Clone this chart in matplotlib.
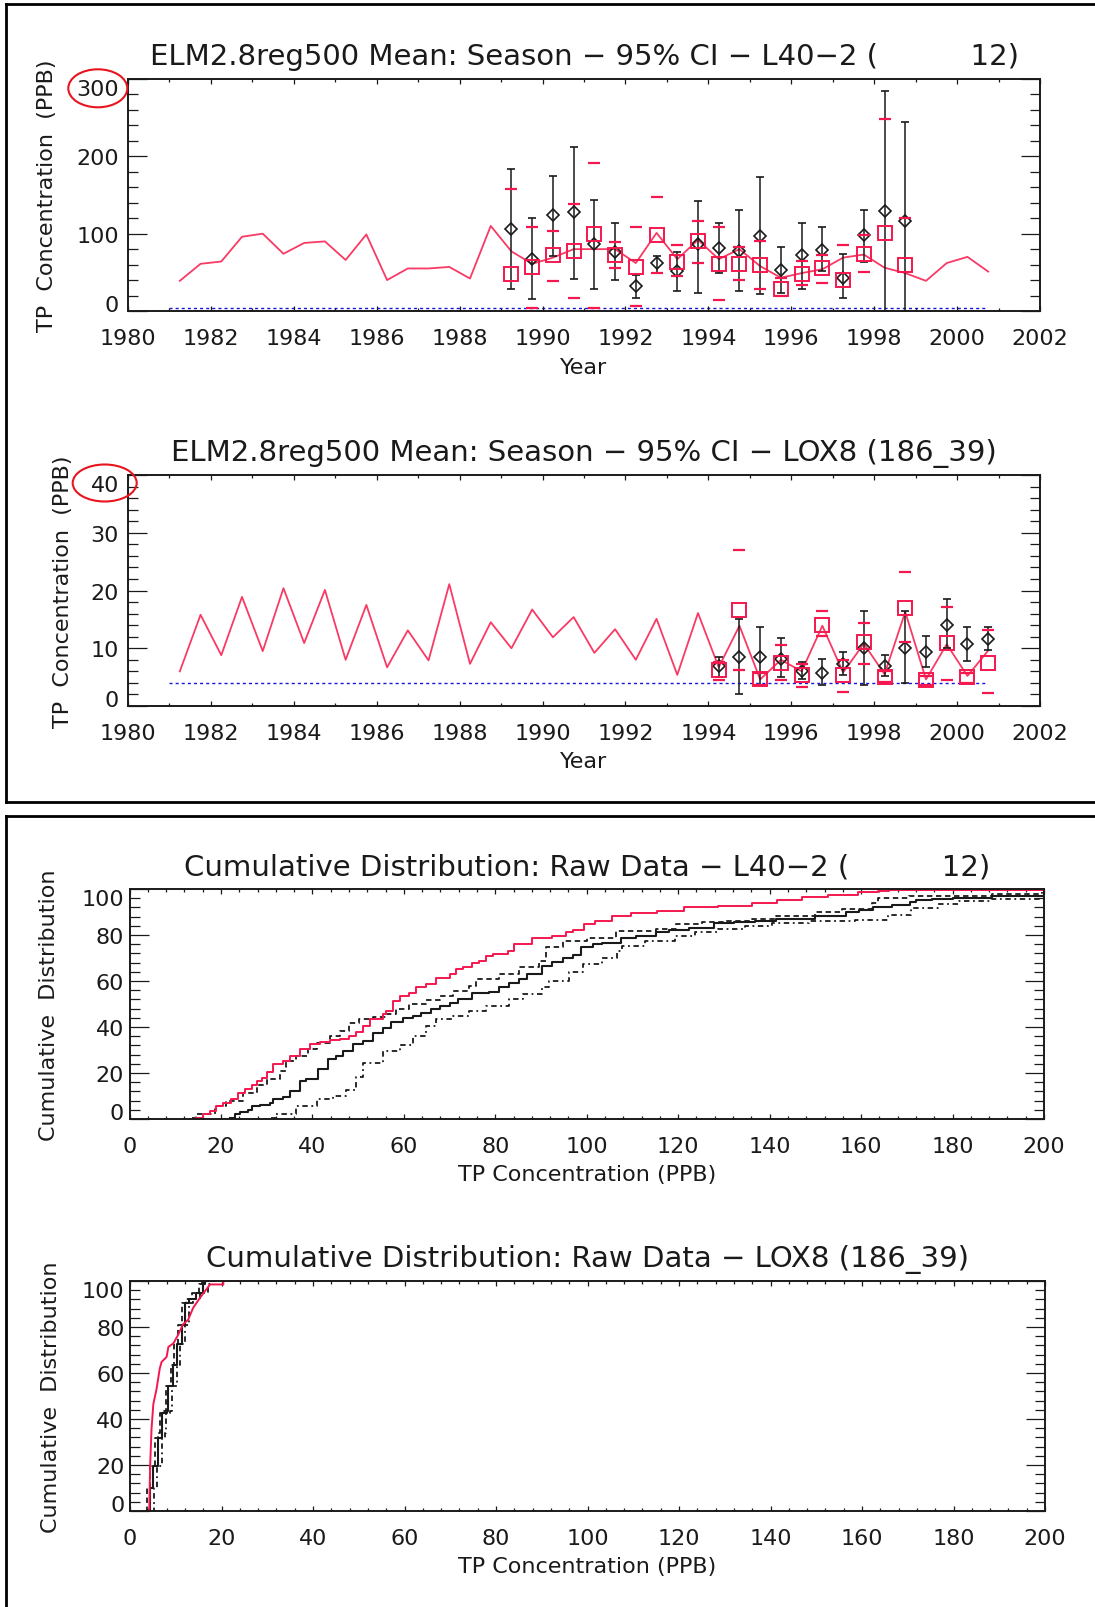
import numpy as np
import matplotlib
matplotlib.use("Agg")
import matplotlib.pyplot as plt
from matplotlib.patches import Ellipse
from matplotlib.lines import Line2D
from matplotlib.ticker import MultipleLocator
from matplotlib.transforms import ScaledTranslation

plt.rcParams['font.family'] = ['DejaVu Sans']

W, H = 1095, 1608
RED = '#f5184e'
PINK = '#f83a64'
INK = '#1a1a1a'
BLUE = '#1515e0'

# ---------------- data: seasonal means, L40-2 ----------------
model_years = [1981.25, 1981.75, 1982.25, 1982.75, 1983.25, 1983.75, 1984.25, 1984.75,
               1985.25, 1985.75, 1986.25, 1986.75, 1987.25, 1987.75, 1988.25, 1988.75,
               1989.25, 1989.75, 1990.25, 1990.75, 1991.25, 1991.75, 1992.25, 1992.75,
               1993.25, 1993.75, 1994.25, 1994.75, 1995.25, 1995.75, 1996.25, 1996.75,
               1997.25, 1997.75, 1998.25, 1998.75, 1999.25, 1999.75, 2000.25, 2000.75]
l40_model = [39, 61, 64, 96, 100, 74, 88, 90, 66, 99, 40, 55, 55, 57, 42, 110,
             77, 61, 69, 80, 80, 80, 62, 101, 67, 92, 67, 80, 58, 43, 49, 54,
             69, 73, 56, 49, 39, 62, 70, 51]

l40_years = [1989.25, 1989.75, 1990.25, 1990.75, 1991.25, 1991.75, 1992.25, 1992.75,
             1993.25, 1993.75, 1994.25, 1994.75, 1995.25, 1995.75, 1996.25, 1996.75,
             1997.25, 1997.75, 1998.25, 1998.75]
l40_sim_mean = [48, 57, 72, 78, 100, 73, 57, 98, 63, 90, 61, 61, 59, 28, 48, 55, 40, 74, 101, 59]
l40_sim_hi = [158, 108, 104, 139, 191, 89, 108, 148, 85, 116, 108, 83, 91, 43, 65, 72, 85, 98, 248, 120]
l40_sim_lo = [np.nan, 4, 39, 17, 4, 56, 7, 49, 45, 62, 14, 40, 28, 20, 33, 36, np.nan, 51, np.nan, np.nan]
l40_obs_mean = [106, 67, 124, 128, 86, 76, 32, 62, 52, 87, 82, 78, 97, 53, 72, 79, 43, 98, 129, 117]
l40_obs_hi = [184, 120, 175, 212, 143, 114, 46, 71, 76, 142, 114, 131, 173, 83, 114, 108, 74, 131, 285, 244]
l40_obs_lo = [28, 16, 71, 42, 28, 40, 17, 49, 26, 23, 49, 26, 22, 23, 28, 52, 17, 64, 0, 0]

# ---------------- data: seasonal means, LOX8 ----------------
lox_model = [6.0, 15.8, 8.8, 18.9, 9.5, 20.4, 10.9, 20.1, 8.0, 17.5, 6.7, 13.1, 7.9, 21.1,
             7.3, 14.5, 10.0, 16.7, 11.9, 15.4, 9.2, 13.3, 8.0, 15.1, 5.4, 16.1, 6.7, 13.9,
             4.6, 8.0, 6.0, 13.9, 5.8, 10.8, 5.5, 16.3, 4.6, 10.7, 5.2, 9.6]

lox_years = [1994.25, 1994.75, 1995.25, 1995.75, 1996.25, 1996.75, 1997.25, 1997.75,
             1998.25, 1998.75, 1999.25, 1999.75, 2000.25, 2000.75]
lox_sim_mean = [6.3, 16.7, 4.6, 7.5, 5.3, 14.1, 5.3, 11.0, 5.0, 17.0, 4.5, 10.9, 5.0, 7.5]
lox_sim_hi = [7.7, 27.0, 5.8, 10.6, 7.2, 16.4, 8.0, 14.4, 6.0, 23.2, 5.2, 17.2, 5.8, 13.1]
lox_sim_lo = [4.5, 6.3, 3.7, 4.5, 3.3, 12.2, 2.4, 7.2, 4.2, 11.1, 3.7, 4.5, 3.9, 2.3]
lox_obs_mean = [6.9, 8.5, 8.4, 8.1, 6.0, 5.8, 7.2, 10.1, 7.0, 10.1, 9.4, 14.0, 10.7, 11.6]
lox_obs_hi = [8.5, 15.1, 13.6, 11.7, 7.7, 8.1, 9.4, 16.4, 8.8, 16.4, 12.2, 18.5, 13.6, 13.6]
lox_obs_lo = [5.0, 2.0, 3.7, 5.0, 4.6, 3.6, 5.3, 3.6, 5.2, 4.0, 6.7, 10.0, 7.8, 9.7]

detect_limit = 4.0
detect_span = [1981.0, 2000.7]

# ---------------- data: cumulative distributions, L40-2 ----------------
cdf1_sim_x = [14.5, 16, 17.5, 19, 20.5, 22.3, 23.8, 25.2, 26.7, 27.8, 28.9, 30, 31.4, 33.6, 35.0,
              37.2, 39.4, 41.6, 43.8, 46, 48.1, 49.6, 51, 52.5, 55.4, 56.1, 57.6, 59.1, 61.2,
              62.7, 64.9, 67.1, 70, 71.4, 72.9, 75, 76.5, 78, 79.4, 82.7, 84.1, 88.1, 92.5,
              95.4, 96.9, 99.4, 101.9, 105.6, 109.6, 115.4, 121.2, 128.8, 136.1, 141.6, 147,
              152.8, 159.4, 163.8, 166, 200]
cdf1_sim_y = [0.5, 2, 3.5, 5.6, 6.8, 8.8, 11.4, 12.9, 14.6, 16.5, 18, 20.4, 23.7, 25.2, 27.4,
              30.3, 32.8, 33.6, 34.4, 35, 36.1, 38, 40.5, 43.4, 45.5, 47, 51.3, 53.5, 55,
              57.6, 58.6, 61.5, 63, 65.4, 66.3, 68, 68.8, 70.7, 71.7, 73.1, 76, 78.5, 79.7,
              81.1, 82.3, 84.8, 86.3, 88.1, 89.4, 90.5, 92, 92.7, 93.9, 95.3, 96.4,
              97.5, 98.6, 99.3, 99.7, 99.7]
cdf1_obs_x = [22, 23, 24.1, 26, 26.7, 28.5, 30.7, 31.4, 33.6, 35, 37.2, 38.7, 41.2, 43.4, 45.2,
              46.7, 48.9, 51, 53.2, 55.4, 57.2, 59.8, 62, 63.8, 66, 67.8, 70, 71.8, 75, 78.7,
              80.9, 83.1, 85.2, 87, 90.3, 92.5, 94.7, 96.9, 98.7, 101.3, 103.4, 107.4, 110.7,
              115.1, 118, 122.4, 127.8, 132.2, 136.9, 141.3, 150, 156.6, 159.5, 162.7, 166.8,
              170.8, 171.9, 175.5, 180.2, 188.6, 198.8, 200]
cdf1_obs_y = [0.5, 2, 3, 4, 5.6, 5.9, 6.8, 8.5, 9.7, 12.1, 16.5, 17.6, 21.6, 25.9, 27.4,
              29.5, 32.5, 33.9, 37.6, 39.4, 42.2, 43.7, 44.8, 46.3, 47.7, 49.2, 50.6, 52.1, 54.6, 55.3,
              57.2, 59.3, 60.8, 63, 66.6, 68.3, 69.8, 71.3, 74.6, 76, 76.7, 78.5, 79.4,
              81.4, 82.3, 83.1, 85.1, 85.5, 86.3, 87, 88.4, 89.9, 90.9, 92, 93.1,
              94.2, 95.4, 95.7, 96.1, 96.9, 97.1, 98.5]
cdf1_up_x = [13.6, 14.5, 18.7, 21.2, 24.9, 27.8, 30, 32.9, 34.3, 36.5, 39, 40.9, 43.8, 46, 48.1,
             50.3, 53.2, 56.1, 58.3, 61.2, 64.9, 67.8, 70.7, 74.3, 75.8, 80.9, 85.2, 89.6, 91.1,
             94.7, 100, 106.3, 115.1, 119.5, 125.3, 130.4, 136.2, 141.3, 150, 155.8, 162.4,
             163.8, 170.4, 180.6, 188.6, 199.5]
cdf1_up_y = [0.5, 2, 5.6, 7.8, 11.4, 14.6, 17.5, 20.8, 25.2, 27.4, 30.3, 33.2, 36.1, 38.3, 41.6,
             43.4, 44.5, 45.5, 47.7, 49.9, 51.6, 53.5, 55.7, 57.9, 60.8, 63, 66.3, 68.8, 74.6,
             77.5, 78.8, 81.7, 82.7, 84.9, 85.6, 86.3, 87, 88.2, 89.9, 91.4, 94,
             96, 96.9, 97.1, 97.8, 98.6]
cdf1_lo_x = [31, 32.1, 36.5, 40.9, 44.5, 47.4, 49.6, 51, 55.4, 59.1, 62, 64.9, 67.1, 70.7, 74.3,
             78, 83.1, 86, 90.3, 91.8, 96.1, 99.1, 103.4, 106.7, 107.7, 112.8, 119.3, 123.7,
             128.8, 134.6, 140.5, 148.5, 158.7, 165.9, 171, 176.9, 181.2, 188.5, 199.5]
cdf1_lo_y = [0.5, 2, 5.6, 8.5, 9.9, 12.8, 18.4, 24.5, 29.5, 32, 36.1, 40.4, 43.4, 44.8, 47,
             49.2, 52.1, 54.3, 57.2, 60, 63.7, 67.3, 69.8, 73.1, 75.3, 77.5, 79.7, 81.1,
             82.8, 84, 85.4, 86.1, 86.6, 88.6, 91.6, 93.4, 94.9, 95.6, 96.3]

# ---------------- data: cumulative distributions, LOX8 ----------------
cdf2_sim_x = [4.2, 4.4, 4.7, 5.1, 5.8, 6.5, 6.9, 8.0, 8.4, 9.5, 10.5, 11.6, 12.7, 13.8,
              15.3, 16.4, 17.5, 20.4, 20.4, 24.4]
cdf2_sim_y = [0, 19.4, 35.5, 46.5, 53, 61.9, 64.8, 67, 71.4, 72.9, 76.5, 81.2, 83.1, 88.3,
              92.7, 95.6, 98.5, 98.5, 100, 100]
cdf2_obs_x = [4.0, 4.4, 5.1, 6.2, 6.9, 7.1, 8.0, 8.4, 9.5, 10.2, 11.3, 12.1, 12.9, 14.5, 16.0, 16.4, 18.0]
cdf2_obs_y = [0, 9.8, 19.6, 31.8, 34, 42.8, 43.5, 54.5, 63.3, 72.4, 81, 90.5, 92, 95, 98.5, 100, 100]
cdf2_up_x = [3.6, 3.8, 4.4, 5.5, 6.2, 6.6, 7.4, 7.8, 8.9, 9.6, 10.6, 11.4, 12.2, 13.6, 15.0, 15.8, 17.0]
cdf2_up_y = [0, 9.8, 19.6, 31.8, 34, 42.8, 43.5, 54.5, 63.3, 72.4, 81, 90.5, 92, 95, 98.5, 100, 100]
cdf2_lo_x = [4.9, 5.3, 5.8, 6.9, 7.6, 7.9, 8.7, 9.1, 10.2, 10.9, 12.0, 12.8, 13.7, 15.4, 17.0, 17.6, 19.0]
cdf2_lo_y = [0, 9.8, 19.6, 31.8, 34, 42.8, 43.5, 54.5, 63.3, 72.4, 81, 90.5, 92, 95, 98.5, 100, 100]

fig = plt.figure(figsize=(W / 100, H / 100), dpi=100)


def px_axes(left, top, right, bottom):
    return fig.add_axes([left / W, 1 - bottom / H, (right - left) / W, (bottom - top) / H])


def style(ax, ypad):
    for s in ax.spines.values():
        s.set_linewidth(1.4)
        s.set_color(INK)
    ax.tick_params(which='both', direction='in', top=True, right=True, color=INK,
                   labelcolor=INK, labelsize=16, width=0.9)
    ax.tick_params(axis='y', which='major', length=13.5, pad=ypad)
    ax.tick_params(axis='y', which='minor', length=7)
    ax.tick_params(axis='x', which='major', length=3.6, pad=12.5)
    ax.tick_params(axis='x', which='minor', length=2)


def nudge_ends(ax, px=8):
    ticks = ax.yaxis.get_major_ticks()
    lab = ticks[0].label1
    lab.set_transform(lab.get_transform() + ScaledTranslation(0, px / 100, fig.dpi_scale_trans))
    lab = ticks[-1].label1
    lab.set_transform(lab.get_transform() + ScaledTranslation(0, -px / 100, fig.dpi_scale_trans))


def season_panel(ax, title, model, yrs, sm, shi, slo, om, ohi, olo, ytop, ymaj, ymin):
    om, ohi, olo = np.array(om), np.array(ohi), np.array(olo)
    ax.plot(model_years, model, color=PINK, lw=1.3, zorder=2)
    ax.plot(detect_span, [detect_limit, detect_limit], color=BLUE, lw=1.0,
            ls=(0, (2.2, 2.2)), zorder=1)
    ax.errorbar(yrs, om, yerr=[om - olo, ohi - om], fmt='D', ms=6.3, mfc='none', mec=INK,
                mew=1.2, ecolor=INK, elinewidth=1.1, capsize=2.6, capthick=1.4, zorder=3)
    ax.plot(yrs, sm, ls='none', marker='s', ms=10, mfc='none', mec=RED, mew=1.4, zorder=4)
    ax.plot(yrs, shi, ls='none', marker='_', ms=8, mew=1.6, color=RED, zorder=4)
    ax.plot(yrs, slo, ls='none', marker='_', ms=8, mew=1.6, color=RED, zorder=4)
    ax.set_xlim(1980, 2002)
    ax.set_ylim(0, ytop)
    ax.set_xticks(range(1980, 2003, 2))
    ax.xaxis.set_minor_locator(MultipleLocator(1))
    ax.set_yticks(np.arange(0, ytop + 1, ymaj))
    ax.yaxis.set_minor_locator(MultipleLocator(ymin))
    style(ax, 6.5)
    nudge_ends(ax)
    ax.text(0.5, 1.097, title, transform=ax.transAxes, ha='center', va='center',
            fontsize=21, color=INK)
    ax.set_xlabel('Year', fontsize=16, color=INK)
    ax.xaxis.set_label_coords(0.5, -0.24)
    ax.xaxis.label.set_va('center')
    ax.set_ylabel('TP  Concentration  (PPB)', fontsize=16, color=INK, va='center')


def cdf_panel(ax, title, sx, sy, ox, oy, ux, uy, lx, ly, sim_steps=True):
    ds = 'steps-post' if sim_steps else 'default'
    ax.plot(ux, uy, color=INK, lw=1.3, ls=(0, (3, 2)), drawstyle='steps-post')
    ax.plot(lx, ly, color=INK, lw=1.3, ls=(0, (3, 2, 1, 2)), drawstyle='steps-post')
    ax.plot(ox, oy, color=INK, lw=1.5, drawstyle='steps-post')
    ax.plot(sx, sy, color=RED, lw=1.4, drawstyle=ds)
    ax.set_xlim(0, 200)
    ax.set_ylim(0, 100)
    ax.set_xticks(range(0, 201, 20))
    ax.xaxis.set_minor_locator(MultipleLocator(4))
    ax.set_yticks(range(0, 101, 20))
    ax.yaxis.set_minor_locator(MultipleLocator(4))
    style(ax, 4)
    nudge_ends(ax)
    ax.text(0.5, 1.099, title, transform=ax.transAxes, ha='center', va='center',
            fontsize=21, color=INK)
    ax.set_xlabel('TP Concentration (PPB)', fontsize=16, color=INK)
    ax.xaxis.set_label_coords(0.5, -0.239)
    ax.xaxis.label.set_va('center')
    ax.set_ylabel('Cumulative  Distribution', fontsize=16, color=INK, va='center')


MINUS = '\u2212'
gap = ' ' * 10

ax1 = px_axes(128, 80, 1040, 312)
season_panel(ax1, f'ELM2.8reg500 Mean: Season {MINUS} 95% CI {MINUS} L40{MINUS}2 ({gap}12)',
             l40_model, l40_years, l40_sim_mean, l40_sim_hi, l40_sim_lo,
             l40_obs_mean, l40_obs_hi, l40_obs_lo, 300, 100, 20)
ax1.yaxis.set_label_coords((47 - 128) / 912, 0.5)

ax2 = px_axes(128, 476, 1040, 707)
season_panel(ax2, f'ELM2.8reg500 Mean: Season {MINUS} 95% CI {MINUS} LOX8 (186_39)',
             lox_model, lox_years, lox_sim_mean, lox_sim_hi, lox_sim_lo,
             lox_obs_mean, lox_obs_hi, lox_obs_lo, 40, 10, 2)
ax2.yaxis.set_label_coords((63 - 128) / 912, 0.5)

ax3 = px_axes(129.5, 890, 1044, 1120)
cdf_panel(ax3, f'Cumulative Distribution: Raw Data {MINUS} L40{MINUS}2 ({gap}12)',
          cdf1_sim_x, cdf1_sim_y, cdf1_obs_x, cdf1_obs_y,
          cdf1_up_x, cdf1_up_y, cdf1_lo_x, cdf1_lo_y)
ax3.yaxis.set_label_coords((49 - 129.5) / 914.5, 0.5)

ax4 = px_axes(130, 1282, 1045, 1512)
cdf_panel(ax4, f'Cumulative Distribution: Raw Data {MINUS} LOX8 (186_39)',
          cdf2_sim_x, cdf2_sim_y, cdf2_obs_x, cdf2_obs_y,
          cdf2_up_x, cdf2_up_y, cdf2_lo_x, cdf2_lo_y, sim_steps=False)
ax4.yaxis.set_label_coords((51 - 130) / 915, 0.5)

# red circles drawn round the top y labels
for cx, cy, w, h in [(97.8, 89.3, 59, 38), (104.7, 484, 64, 37)]:
    fig.add_artist(Ellipse((cx / 100, (H - cy) / 100), w / 100, h / 100,
                           transform=fig.dpi_scale_trans, fill=False, ec='#e8141e', lw=1.5))

# frames round the two groups of plots
def fline(xs, ys):
    fig.add_artist(Line2D([x / W for x in xs], [1 - y / H for y in ys], color='black',
                          lw=2.0, solid_capstyle='projecting'))

fline([5.6, 1095], [5, 5])
fline([5.6, 5.6], [5, 803])
fline([5.6, 1095], [803, 803])
fline([6, 1095], [817, 817])
fline([6, 6], [817, 1608])

fig.savefig('out.png', dpi=100)
